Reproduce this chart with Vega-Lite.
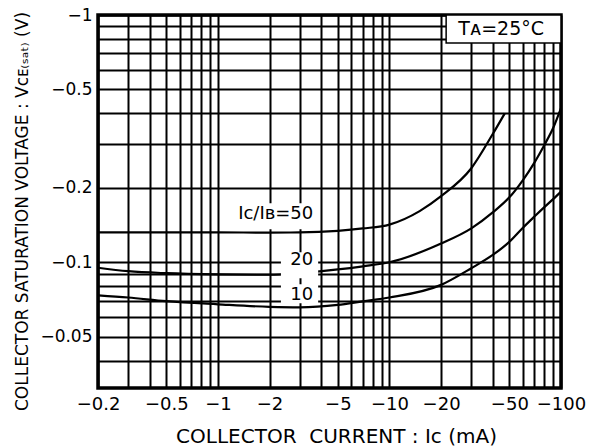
{
  "$schema": "https://vega.github.io/schema/vega-lite/v6.json",
  "width": 463,
  "height": 373,
  "autosize": {"type": "none"},
  "padding": {"left": 98, "top": 15, "right": 40, "bottom": 60},
  "background": "white",
  "config": {
    "view": {"stroke": "black", "strokeWidth": 3.5},
    "font": "DejaVu Sans",
    "axis": {
      "grid": true,
      "gridColor": "black",
      "gridWidth": 2,
      "gridOpacity": 1,
      "ticks": false,
      "domain": false,
      "labelColor": "black",
      "labelFont": "DejaVu Sans",
      "labelFlush": false,
      "labelOverlap": false,
      "titleColor": "black",
      "titleFont": "DejaVu Sans",
      "titleFontWeight": "normal"
    }
  },
  "datasets": {
    "curves": [
      {"ic": 0.2, "v": 0.132, "ratio": "50"},
      {"ic": 0.5, "v": 0.132, "ratio": "50"},
      {"ic": 1, "v": 0.132, "ratio": "50"},
      {"ic": 2, "v": 0.1318, "ratio": "50"},
      {"ic": 3, "v": 0.132, "ratio": "50"},
      {"ic": 5, "v": 0.134, "ratio": "50"},
      {"ic": 7, "v": 0.137, "ratio": "50"},
      {"ic": 10, "v": 0.142, "ratio": "50"},
      {"ic": 15, "v": 0.161, "ratio": "50"},
      {"ic": 20, "v": 0.185, "ratio": "50"},
      {"ic": 30, "v": 0.24, "ratio": "50"},
      {"ic": 40, "v": 0.33, "ratio": "50"},
      {"ic": 47, "v": 0.4, "ratio": "50"},
      {"ic": 0.2, "v": 0.095, "ratio": "20"},
      {"ic": 0.3, "v": 0.092, "ratio": "20"},
      {"ic": 0.5, "v": 0.0903, "ratio": "20"},
      {"ic": 1, "v": 0.0893, "ratio": "20"},
      {"ic": 2, "v": 0.089, "ratio": "20"},
      {"ic": 3, "v": 0.0905, "ratio": "20"},
      {"ic": 5, "v": 0.0935, "ratio": "20"},
      {"ic": 7, "v": 0.0963, "ratio": "20"},
      {"ic": 10, "v": 0.1, "ratio": "20"},
      {"ic": 20, "v": 0.119, "ratio": "20"},
      {"ic": 30, "v": 0.137, "ratio": "20"},
      {"ic": 40, "v": 0.159, "ratio": "20"},
      {"ic": 50, "v": 0.183, "ratio": "20"},
      {"ic": 60, "v": 0.215, "ratio": "20"},
      {"ic": 70, "v": 0.253, "ratio": "20"},
      {"ic": 80, "v": 0.298, "ratio": "20"},
      {"ic": 90, "v": 0.349, "ratio": "20"},
      {"ic": 100, "v": 0.42, "ratio": "20"},
      {"ic": 0.2, "v": 0.0735, "ratio": "10"},
      {"ic": 0.3, "v": 0.072, "ratio": "10"},
      {"ic": 0.5, "v": 0.0696, "ratio": "10"},
      {"ic": 1, "v": 0.0676, "ratio": "10"},
      {"ic": 2, "v": 0.066, "ratio": "10"},
      {"ic": 3, "v": 0.0657, "ratio": "10"},
      {"ic": 5, "v": 0.0672, "ratio": "10"},
      {"ic": 7, "v": 0.0695, "ratio": "10"},
      {"ic": 10, "v": 0.072, "ratio": "10"},
      {"ic": 20, "v": 0.081, "ratio": "10"},
      {"ic": 30, "v": 0.0946, "ratio": "10"},
      {"ic": 40, "v": 0.107, "ratio": "10"},
      {"ic": 50, "v": 0.121, "ratio": "10"},
      {"ic": 60, "v": 0.138, "ratio": "10"},
      {"ic": 70, "v": 0.153, "ratio": "10"},
      {"ic": 80, "v": 0.167, "ratio": "10"},
      {"ic": 90, "v": 0.18, "ratio": "10"},
      {"ic": 100, "v": 0.193, "ratio": "10"}
    ],
    "boxes": [
      {"x1": 1.19, "x2": 3.84, "y1": 0.1733, "y2": 0.136},
      {"x1": 2.33, "x2": 3.84, "y1": 0.1098, "y2": 0.0861},
      {"x1": 2.33, "x2": 3.84, "y1": 0.0815, "y2": 0.0682}
    ],
    "labels": [
      {"x": 3.59, "y": 0.1564, "text": "Iᴄ/Iʙ=50"},
      {"x": 3.59, "y": 0.1019, "text": "20"},
      {"x": 3.59, "y": 0.0735, "text": "10"}
    ],
    "note": [
      {"x1": 21.4, "x2": 100, "y1": 1, "y2": 0.77, "xt": 44.8, "yt": 0.878, "text": "Tᴀ=25°C"}
    ]
  },
  "layer": [
    {
      "data": {"name": "curves"},
      "mark": {"type": "line", "color": "black", "strokeWidth": 2.2, "interpolate": "monotone"},
      "encoding": {
        "x": {
          "field": "ic",
          "type": "quantitative",
          "scale": {"type": "log", "domain": [0.2, 100], "nice": false},
          "axis": {
            "values": [0.2, 0.3, 0.4, 0.5, 0.6, 0.7, 0.8, 0.9, 1, 2, 3, 4, 5, 6, 7, 8, 9, 10, 20, 30, 40, 50, 60, 70, 80, 90, 100],
            "labelExpr": "indexof([0.2, 0.5, 1, 2, 5, 10, 20, 50, 100], datum.value) >= 0 ? '−' + datum.value : ''",
            "labelFontSize": 18,
            "labelPadding": 7,
            "title": "COLLECTOR\u00a0 CURRENT : Iᴄ (mA)",
            "titleFontSize": 20,
            "titleX": 238,
            "titleY": 48,
            "titleAlign": "center",
            "titleBaseline": "middle"
          }
        },
        "y": {
          "field": "v",
          "type": "quantitative",
          "scale": {"type": "log", "domain": [0.031, 1], "nice": false},
          "axis": {
            "values": [0.04, 0.05, 0.06, 0.07, 0.08, 0.09, 0.1, 0.2, 0.3, 0.4, 0.5, 0.6, 0.7, 0.8, 0.9, 1],
            "labelExpr": "indexof([0.05, 0.1, 0.2, 0.5, 1], datum.value) >= 0 ? '−' + datum.value : ''",
            "labelFontSize": 17,
            "labelPadding": 6,
            "title": "COLLECTOR SATURATION VOLTAGE : Vᴄᴇ₍ₛₐₜ₎ (V)",
            "titleFontSize": 17,
            "titleAngle": 270,
            "titleX": -76,
            "titleY": 196,
            "titleAlign": "center",
            "titleBaseline": "middle"
          }
        },
        "detail": {"field": "ratio"}
      }
    },
    {
      "data": {"name": "boxes"},
      "mark": {"type": "rect", "fill": "white"},
      "encoding": {
        "x": {"field": "x1", "type": "quantitative"},
        "x2": {"field": "x2"},
        "y": {"field": "y1", "type": "quantitative"},
        "y2": {"field": "y2"}
      }
    },
    {
      "data": {"name": "labels"},
      "mark": {"type": "text", "align": "right", "baseline": "middle", "fontSize": 18, "color": "black", "font": "DejaVu Sans"},
      "encoding": {
        "x": {"field": "x", "type": "quantitative"},
        "y": {"field": "y", "type": "quantitative"},
        "text": {"field": "text"}
      }
    },
    {
      "data": {"name": "note"},
      "mark": {"type": "rect", "fill": "white", "stroke": "black", "strokeWidth": 1.5},
      "encoding": {
        "x": {"field": "x1", "type": "quantitative"},
        "x2": {"field": "x2"},
        "y": {"field": "y1", "type": "quantitative"},
        "y2": {"field": "y2"}
      }
    },
    {
      "data": {"name": "note"},
      "mark": {"type": "text", "align": "center", "baseline": "middle", "fontSize": 19, "color": "black", "font": "DejaVu Sans"},
      "encoding": {
        "x": {"field": "xt", "type": "quantitative"},
        "y": {"field": "yt", "type": "quantitative"},
        "text": {"field": "text"}
      }
    }
  ]
}
